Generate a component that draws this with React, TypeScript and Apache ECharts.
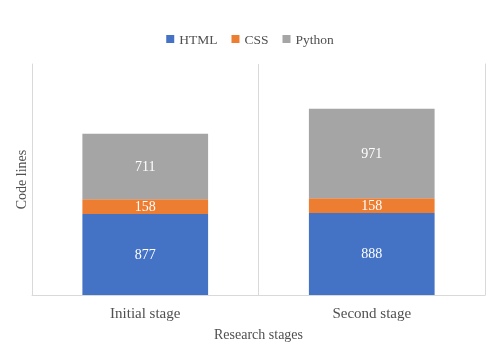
import React, { useEffect, useRef } from "react";
import * as echarts from "echarts";

const categories = ["Initial stage", "Second stage"];
const htmlValues = [877, 888];
const cssValues = [158, 158];
const pythonValues = [711, 971];

const FONT = "'Liberation Serif', 'Times New Roman', serif";

export default function App() {
  const ref = useRef<HTMLDivElement>(null);
  useEffect(() => {
    if (!ref.current) return;
    const chart = echarts.init(ref.current, undefined, { renderer: "svg" });
    const label = {
      show: true,
      position: "inside",
      color: "#ffffff",
      fontFamily: FONT,
      fontSize: 14,
    };
    chart.setOption({
      animation: false,
      textStyle: { fontFamily: FONT },
      legend: {
        top: 27,
        left: "center",
        itemWidth: 8,
        itemHeight: 8,
        itemGap: 14,
        icon: "rect",
        textStyle: { fontFamily: FONT, fontSize: 13.5, color: "#505050" },
        data: ["HTML", "CSS", "Python"],
      },
      grid: { left: 32, right: 15, top: 64, bottom: 58 },
      xAxis: {
        type: "category",
        data: categories,
        name: "Research stages",
        nameLocation: "middle",
        nameGap: 32,
        nameTextStyle: { fontFamily: FONT, fontSize: 14, color: "#505050" },
        axisLine: { show: true, lineStyle: { color: "#d9d9d9" } },
        axisTick: { show: false },
        splitLine: { show: true, lineStyle: { color: "#d9d9d9" } },
        axisLabel: {
          fontFamily: FONT,
          fontSize: 15,
          color: "#505050",
          margin: 10,
        },
      },
      yAxis: [
        {
          type: "value",
          min: 0,
          max: 2500,
          interval: 500,
          name: "Code lines",
          nameLocation: "middle",
          nameGap: 4,
          nameRotate: 90,
          nameTextStyle: { fontFamily: FONT, fontSize: 14, color: "#505050" },
          axisLine: { show: true, lineStyle: { color: "#d9d9d9" } },
          axisTick: { show: false },
          axisLabel: { show: false },
          splitLine: { show: false },
        },
        {
          type: "value",
          position: "right",
          min: 0,
          max: 2500,
          interval: 500,
          axisLine: { show: true, lineStyle: { color: "#d9d9d9" } },
          axisTick: { show: false },
          axisLabel: { show: false },
          splitLine: { show: false },
        },
      ],
      series: [
        {
          name: "HTML",
          type: "bar",
          stack: "total",
          data: htmlValues,
          barWidth: "55.5%",
          itemStyle: { color: "#4472C4" },
          label,
        },
        {
          name: "CSS",
          type: "bar",
          stack: "total",
          data: cssValues,
          itemStyle: { color: "#ED7D31" },
          label,
        },
        {
          name: "Python",
          type: "bar",
          stack: "total",
          data: pythonValues,
          itemStyle: { color: "#A5A5A5" },
          label,
        },
      ],
    });
    return () => chart.dispose();
  }, []);
  return (
    <div
      ref={ref}
      style={{ position: "fixed", left: 0, top: 0, width: 500, height: 353 }}
    />
  );
}
